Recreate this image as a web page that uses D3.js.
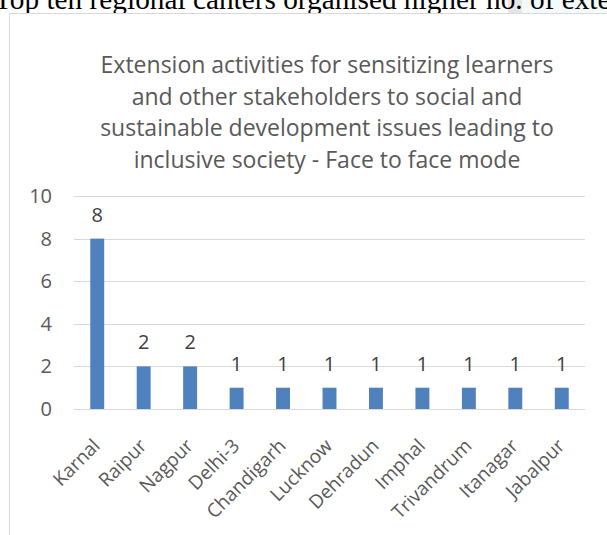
<!DOCTYPE html>
<html><head><meta charset="utf-8">
<script src="https://cdn.jsdelivr.net/npm/d3@7"></script>
<style>html,body{margin:0;padding:0;background:#fff;overflow:hidden}</style>
</head><body>
<script>
const categories = ["Karnal","Raipur","Nagpur","Delhi-3","Chandigarh","Lucknow","Dehradun","Imphal","Trivandrum","Itanagar","Jabalpur"];
const values = [8,2,2,1,1,1,1,1,1,1,1];
const yTicks = [0,2,4,6,8,10];
const titleLines = ["Extension activities for sensitizing learners","and other stakeholders to social and","sustainable development issues leading to","inclusive society - Face to face mode"];
const pageHeading = "Top ten regional canters organised higher no. of extension activities";

const W = 607, H = 535;
const svg = d3.select("body").append("svg").attr("width", W).attr("height", H);
const font = "'Open Sans', 'Liberation Sans', sans-serif";

// faint page-background tints behind the heading
svg.append("rect").attr("x", 522).attr("y", 0).attr("width", 85).attr("height", 13).attr("fill", "#f2fafa");
svg.append("rect").attr("x", 508).attr("y", 0).attr("width", 14).attr("height", 13).attr("fill", "#e6e6e6");

svg.append("text").attr("x", -6).attr("y", 9)
  .attr("font-family", "'Liberation Serif', 'Times New Roman', serif")
  .attr("font-size", 29.3).attr("fill", "#000").text(pageHeading);

// chart frame (drawn over the heading's descenders)
svg.append("rect").attr("x", 9.5).attr("y", 13.5).attr("width", 620).attr("height", 560)
  .attr("fill", "#fff").attr("stroke", "#d9d9d9").attr("stroke-width", 1);

const x = d3.scaleBand().domain(categories).range([74, 585]).paddingInner(0.7).paddingOuter(0.35);
const y = d3.scaleLinear().domain([0, 10]).range([409, 196]);

// gridlines
svg.append("g").selectAll("line").data(yTicks).join("line")
  .attr("x1", 74).attr("x2", 585)
  .attr("y1", d => Math.round(y(d)) + 0.5).attr("y2", d => Math.round(y(d)) + 0.5)
  .attr("stroke", "#d9d9d9").attr("stroke-width", 1);

// y axis labels
const yAxis = d3.axisLeft(y).tickValues(yTicks).tickSize(0).tickPadding(0);
const ya = svg.append("g").attr("transform", "translate(52,0)").call(yAxis);
ya.select(".domain").remove();
ya.selectAll("text").attr("font-family", font).attr("font-size", 20).attr("fill", "#595959");

// bars
svg.append("g").selectAll("rect").data(values).join("rect")
  .attr("x", (d, i) => x(categories[i]))
  .attr("width", x.bandwidth())
  .attr("y", d => y(d)).attr("height", d => y(0) - y(d))
  .attr("fill", "#4f81bd");

// data labels
svg.append("g").selectAll("text").data(values).join("text")
  .attr("x", (d, i) => x(categories[i]) + x.bandwidth() / 2)
  .attr("y", d => y(d) - 17)
  .attr("text-anchor", "middle")
  .attr("font-family", font).attr("font-size", 20).attr("fill", "#404040")
  .text(d => d);

// x axis labels
const xAxis = d3.axisBottom(x).tickSize(0).tickPadding(0);
const xa = svg.append("g").attr("transform", "translate(0,409)").call(xAxis);
xa.select(".domain").remove();
xa.selectAll("text")
  .attr("font-family", font).attr("font-size", 19).attr("fill", "#595959")
  .attr("text-anchor", "end").attr("dy", null).attr("y", 0)
  .attr("transform", "translate(4,38) rotate(-45)");

// title
svg.append("g").selectAll("text").data(titleLines).join("text")
  .attr("x", 327).attr("y", (d, i) => 73 + i * 31.7)
  .attr("text-anchor", "middle")
  .attr("font-family", font).attr("font-size", 23).attr("fill", "#595959")
  .text(d => d);
</script>
</body></html>
